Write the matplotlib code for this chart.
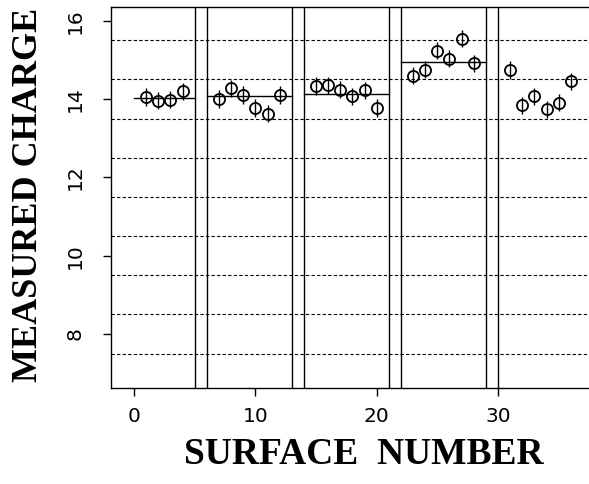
import matplotlib.pyplot as plt
import numpy as np

# measured charge per surface, grouped by run
surface = [1, 2, 3, 4,
           7, 8, 9, 10, 11, 12,
           15, 16, 17, 18, 19, 20,
           23, 24, 25, 26, 27, 28,
           31, 32, 33, 34, 35, 36]
charge = [14.05, 13.96, 13.98, 14.20,
          14.00, 14.27, 14.10, 13.77, 13.63, 14.10,
          14.33, 14.35, 14.24, 14.07, 14.22, 13.77,
          14.60, 14.75, 15.23, 15.03, 15.54, 14.91,
          14.74, 13.84, 14.07, 13.74, 13.91, 14.45]
charge_err = 0.22

# run averages and where each run starts / ends
run_start = [0, 6, 14, 22]
run_end = [5, 13, 21, 29]
run_mean = [14.02, 14.07, 14.14, 14.94]

run_breaks = [5, 6, 13, 14, 21, 22, 29, 30]
grid_levels = [7.5, 8.5, 9.5, 10.5, 11.5, 12.5, 13.5, 14.5, 15.5]

fig = plt.figure(figsize=(5.89, 4.84), dpi=100)
ax = fig.add_axes([111 / 589, 96 / 484, 1 - 111 / 589, 381 / 484])

for y in grid_levels:
    ax.axhline(y, color="black", lw=0.8, ls=(0, (3, 2)), zorder=1)
for x in run_breaks:
    ax.axvline(x, color="black", lw=1.0, zorder=1)
for x0, x1, m in zip(run_start, run_end, run_mean):
    ax.plot([x0, x1], [m, m], color="black", lw=1.0, zorder=2)

# open circles with the error bar running through them
ax.errorbar(surface, charge, yerr=charge_err, fmt="o", ms=8, mfc="none",
            mec="black", mew=1.3, ecolor="black", elinewidth=1.0,
            capsize=0, zorder=3)

ax.set_xlim(-1.9, 37.5)
ax.set_ylim(6.62, 16.35)
ax.set_xticks([0, 10, 20, 30])
ax.set_yticks([8, 10, 12, 14, 16])
ax.spines["right"].set_visible(False)
ax.tick_params(axis="both", direction="out", length=6, width=1.0,
               labelsize=14.5, color="black")
ax.tick_params(axis="x", pad=8)
ax.tick_params(axis="y", pad=13, labelrotation=90)
for lab in ax.get_yticklabels():
    lab.set_va("center")
for s in ax.spines.values():
    s.set_linewidth(1.0)

fig.text(364 / 589, 29 / 484, "SURFACE  NUMBER", ha="center", va="center",
         fontsize=27, fontweight="bold", family="Liberation Serif")
fig.text(29 / 589, 289 / 484, "MEASURED CHARGE", ha="center", va="center",
         rotation=90, fontsize=26, fontweight="bold", family="Liberation Serif")

fig.savefig("out.png", dpi=100)
